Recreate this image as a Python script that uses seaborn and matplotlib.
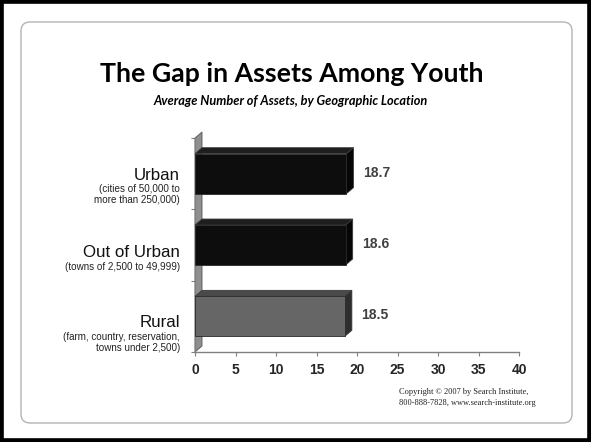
import matplotlib
matplotlib.use("Agg")
import matplotlib.pyplot as plt
import seaborn as sns
import pandas as pd
from matplotlib.patches import Polygon, FancyBboxPatch, Rectangle

# ---------------- data ----------------
categories = ["Urban", "Out of Urban", "Rural"]
category_notes = ["(cities of 50,000 to\nmore than 250,000)",
                  "(towns of 2,500 to 49,999)",
                  "(farm, country, reservation,\ntowns under 2,500)"]
values = [18.7, 18.6, 18.5]
x_ticks = [0, 5, 10, 15, 20, 25, 30, 35, 40]
title = "The Gap in Assets Among Youth"
subtitle = "Average Number of Assets, by Geographic Location"
copyright_lines = ["Copyright \u00a9 2007 by Search Institute,",
                   "800-888-7828, www.search-institute.org"]

# ---------------- style ----------------
front_colors = ["#0d0d0d", "#0d0d0d", "#666666"]
top_colors = ["#1e1e1e", "#1e1e1e", "#4a4a4a"]
side_colors = ["#060606", "#060606", "#2e2e2e"]

sns.set_theme(style="white")
plt.rcParams['font.family'] = ['Liberation Sans', 'DejaVu Sans']

W, H = 591, 442
fig = plt.figure(figsize=(W / 100, H / 100), dpi=100)
fig.patch.set_facecolor("white")

# background axes in pixel coordinates
bg = fig.add_axes([0, 0, 1, 1], zorder=0)
bg.set_xlim(0, W)
bg.set_ylim(H, 0)
bg.axis("off")
bg.add_patch(Rectangle((0, 0), W, H, fill=False, edgecolor="black", lw=5.5, clip_on=False))
bg.add_patch(FancyBboxPatch((21, 22), 572 - 21, 423 - 22,
                            boxstyle="round,pad=0,rounding_size=9",
                            fill=False, edgecolor="#b4b4b4", lw=1.0))

# main axes
ax = fig.add_axes([195 / W, (H - 352) / H, 324 / W, 214 / H], zorder=2)
ax.patch.set_alpha(0)

df = pd.DataFrame({"cat": categories, "val": values})
sns.barplot(data=df, x="val", y="cat", hue="cat", palette=front_colors,
            legend=False, orient="h", width=0.56, saturation=1, ax=ax,
            edgecolor="#2a2a2a", linewidth=0.6, zorder=4)
ax.set_xlim(0, 40)
ax.set_ylim(2.5, -0.5)

# depth of the 3D effect (7 px right, 6 px up) in data units
dxd = 7 * 40 / 324
dyd = 6 * 3 / 214

# side wall
ax.add_patch(Polygon([(0, 2.5), (0, -0.5), (dxd, -0.5 - dyd), (dxd, 2.5 - dyd)],
                     closed=True, facecolor="#8f8f8f", edgecolor="#555555",
                     lw=0.6, clip_on=False, zorder=2))

bars = [p for p in ax.patches if isinstance(p, Rectangle)]
bars = sorted(bars, key=lambda p: p.get_y())
for i, p in enumerate(bars):
    x0, y0, w, h = p.get_x(), p.get_y(), p.get_width(), p.get_height()
    ax.add_patch(Polygon([(x0, y0), (x0 + w, y0), (x0 + w + dxd, y0 - dyd), (x0 + dxd, y0 - dyd)],
                         closed=True, facecolor=top_colors[i], edgecolor="#3a3a3a",
                         lw=0.6, clip_on=False, zorder=3))
    ax.add_patch(Polygon([(x0 + w, y0), (x0 + w, y0 + h), (x0 + w + dxd, y0 + h - dyd),
                          (x0 + w + dxd, y0 - dyd)],
                         closed=True, facecolor=side_colors[i], edgecolor="#3a3a3a",
                         lw=0.6, clip_on=False, zorder=3))

# axes styling
for s in ["top", "right"]:
    ax.spines[s].set_visible(False)
for s in ["left", "bottom"]:
    ax.spines[s].set_color("#808080")
    ax.spines[s].set_linewidth(1.0)
ax.set_xticks(x_ticks)
ax.set_xticklabels([str(t) for t in x_ticks], fontweight="bold", fontsize=10, color="#262626")
ax.set_yticks([-0.5, 0.5, 1.5, 2.5])
ax.set_yticklabels([])
ax.tick_params(axis="both", which="both", direction="out", length=3, width=0.8,
               color="#808080", bottom=True, left=True)
ax.tick_params(axis="x", pad=5)
ax.set_xlabel("")
ax.set_ylabel("")
ax.grid(False)

# category labels
big_off = [-6.3, -12.0, -10.7]
note_off = [-10.5, -17.5, -15.2]
for i, (cat, note) in enumerate(zip(categories, category_notes)):
    ax.annotate(cat, xy=(0, i), xycoords="data", xytext=(-15, big_off[i]),
                textcoords="offset pixels", ha="right", va="baseline",
                fontsize=12.2, color="#111111", annotation_clip=False)
    ax.annotate(note, xy=(0, i), xycoords="data", xytext=(-15, note_off[i]),
                textcoords="offset pixels", ha="right", va="top",
                fontsize=7.1, color="#222222", linespacing=1.15, annotation_clip=False)

# value labels
for i, v in enumerate(values):
    ax.annotate(f"{v}", xy=(v, i), xycoords="data", xytext=(16.5, 1),
                textcoords="offset pixels", ha="left", va="center",
                fontsize=10, fontweight="bold", color="#404040", annotation_clip=False)

# titles
t1 = bg.text(292, 82, title, ha="center", va="baseline", fontsize=19,
             fontweight="bold", family=["Lato", "DejaVu Sans"], color="black")
t2 = bg.text(291, 105, subtitle, ha="center", va="baseline", fontsize=7.5,
             fontweight="bold", style="italic", family=["Lato", "DejaVu Sans"], color="black")

fig.canvas.draw()
r = fig.canvas.get_renderer()
for t, target in [(t1, 382), (t2, 275)]:
    wpx = t.get_window_extent(r).width
    t.set_fontsize(t.get_fontsize() * target / wpx)

bg.text(399, 394, copyright_lines[0], ha="left", va="baseline", fontsize=6.05,
        family=["Liberation Serif", "DejaVu Serif"], color="#222222")
bg.text(399, 405, copyright_lines[1], ha="left", va="baseline", fontsize=6.05,
        family=["Liberation Serif", "DejaVu Serif"], color="#222222")

fig.savefig("out.png", dpi=100)
